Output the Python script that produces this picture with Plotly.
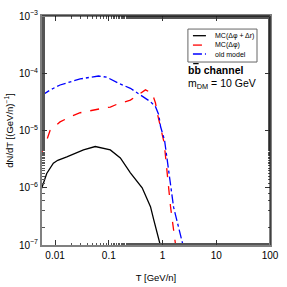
import plotly.graph_objects as go

# log10(T [GeV/n]) and log10(dN/dT)
mc_full_logT = [-2.249, -2.155, -2.032, -1.95, -1.781, -1.471, -1.252, -0.972, -0.785, -0.598, -0.379, -0.224, -0.163, -0.099, -0.050, -0.045]
mc_full_logV = [-6.01, -5.75, -5.57, -5.52, -5.46, -5.34, -5.28, -5.34, -5.48, -5.74, -6.00, -6.33, -6.56, -6.79, -6.97, -7.05]

mc_dphi_logT = [-2.249, -2.219, -2.155, -2.093, -1.907, -1.72, -1.533, -1.346, -1.159, -0.972, -0.817, -0.598, -0.411, -0.318, -0.193, -0.131, -0.099, -0.037, 0.031, 0.150, 0.243]
mc_dphi_logV = [-5.43, -5.25, -5.17, -5.00, -4.85, -4.76, -4.69, -4.65, -4.62, -4.59, -4.53, -4.47, -4.36, -4.29, -4.35, -4.52, -4.69, -4.93, -5.22, -6.34, -7.0]

old_logT = [-2.249, -2.093, -1.907, -1.72, -1.533, -1.346, -1.191, -1.034, -0.817, -0.598, -0.411, -0.224, -0.131, -0.069, -0.037, 0.037, 0.206, 0.38]
old_logV = [-4.389, -4.293, -4.205, -4.148, -4.10, -4.07, -4.048, -4.07, -4.176, -4.263, -4.38, -4.497, -4.584, -4.73, -4.93, -5.166, -6.34, -7.0]

series_names = ["MC(Δφ + Δr)", "MC(Δφ)", "old model"]
series_colors = ["black", "red", "blue"]
series_dash = ["solid", "dash", "dashdot"]

x_tickvals = [0.01, 0.1, 1, 10, 100]
x_ticktext = ["0.01", "0.1", "1", "10", "100"]
y_tickvals = [1e-7, 1e-6, 1e-5, 1e-4, 1e-3]
y_ticktext = ["10<sup>−7</sup>", "10<sup>−6</sup>", "10<sup>−5</sup>", "10<sup>−4</sup>", "10<sup>−3</sup>"]


def lin(a):
    return [10 ** v for v in a]


fig = go.Figure()
for (lx, ly), nm, c, d in zip([(mc_full_logT, mc_full_logV), (mc_dphi_logT, mc_dphi_logV), (old_logT, old_logV)],
                              series_names, series_colors, series_dash):
    fig.add_trace(go.Scatter(x=lin(lx), y=lin(ly), mode="lines", name=nm, showlegend=False,
                             line=dict(color=c, width=1.3, dash=d)))

# manual compact legend
shapes = [dict(type="rect", xref="paper", yref="paper", x0=0.640, x1=0.943, y0=0.799, y1=0.943,
               line=dict(color="#666", width=1), fillcolor="white", layer="above")]
annotations = []
row_y = [0.914, 0.873, 0.834]
for nm, c, d, ry in zip(series_names, series_colors, series_dash, row_y):
    shapes.append(dict(type="line", xref="paper", yref="paper", x0=0.662, x1=0.719, y0=ry, y1=ry,
                       line=dict(color=c, width=1.3, dash=d), layer="above"))
    annotations.append(dict(x=0.752, y=ry, xref="paper", yref="paper", xanchor="left", yanchor="middle",
                            text=nm, showarrow=False, font=dict(size=7)))

# top and right frame lines (black), left/bottom axis lines are grey
shapes.append(dict(type="line", xref="paper", yref="paper", x0=0, x1=1, y0=1, y1=1,
                   line=dict(color="black", width=1), layer="above"))
shapes.append(dict(type="line", xref="paper", yref="paper", x0=1, x1=1, y0=0, y1=1,
                   line=dict(color="black", width=1), layer="above"))
# overline of the anti-b
shapes.append(dict(type="line", xref="paper", yref="paper", x0=0.663, x1=0.687, y0=0.792, y1=0.792,
                   line=dict(color="black", width=1.2), layer="above"))

annotations += [
    dict(x=0.632, y=0.764, xref="paper", yref="paper", xanchor="left", yanchor="middle",
         text="<b>bb channel</b>", showarrow=False, font=dict(size=10.5)),
    dict(x=0.632, y=0.705, xref="paper", yref="paper", xanchor="left", yanchor="middle",
         text="m<sub>DM</sub> = 10 GeV", showarrow=False, font=dict(size=10.5)),
]

font = "Liberation Sans, Arial, sans-serif"
fig.update_layout(
    width=287, height=287,
    margin=dict(l=42, r=17, t=16, b=42, autoexpand=False),
    paper_bgcolor="white", plot_bgcolor="white",
    font=dict(family=font, size=10, color="black"),
    showlegend=False,
    shapes=shapes,
    annotations=annotations,
)
fig.update_xaxes(type="log", range=[-2.243, 2.0], tickvals=x_tickvals, ticktext=x_ticktext,
                 ticks="inside", ticklen=5, mirror="ticks", showline=True, linecolor="#808080",
                 linewidth=2, showgrid=False, zeroline=False, automargin=False,
                 minor=dict(ticks="inside", ticklen=2.5, showgrid=False, tickcolor="#555"),
                 title=dict(text="T [GeV/n]", font=dict(size=9.5), standoff=14),
                 tickfont=dict(size=10), tickcolor="#333")
fig.update_yaxes(type="log", range=[-7, -3], tickvals=y_tickvals, ticktext=y_ticktext,
                 ticks="inside", ticklen=5, mirror="ticks", showline=True, linecolor="#808080",
                 linewidth=2, showgrid=False, zeroline=False, automargin=False,
                 minor=dict(ticks="inside", ticklen=2.5, showgrid=False, tickcolor="#555"),
                 title=dict(text="dN/dT [(GeV/n)<sup>−1</sup>]", font=dict(size=9.5), standoff=4),
                 tickfont=dict(size=10), tickcolor="#333")
fig.write_html("out.html", config={"displayModeBar": False},
               post_script="document.body.style.margin='0';")
